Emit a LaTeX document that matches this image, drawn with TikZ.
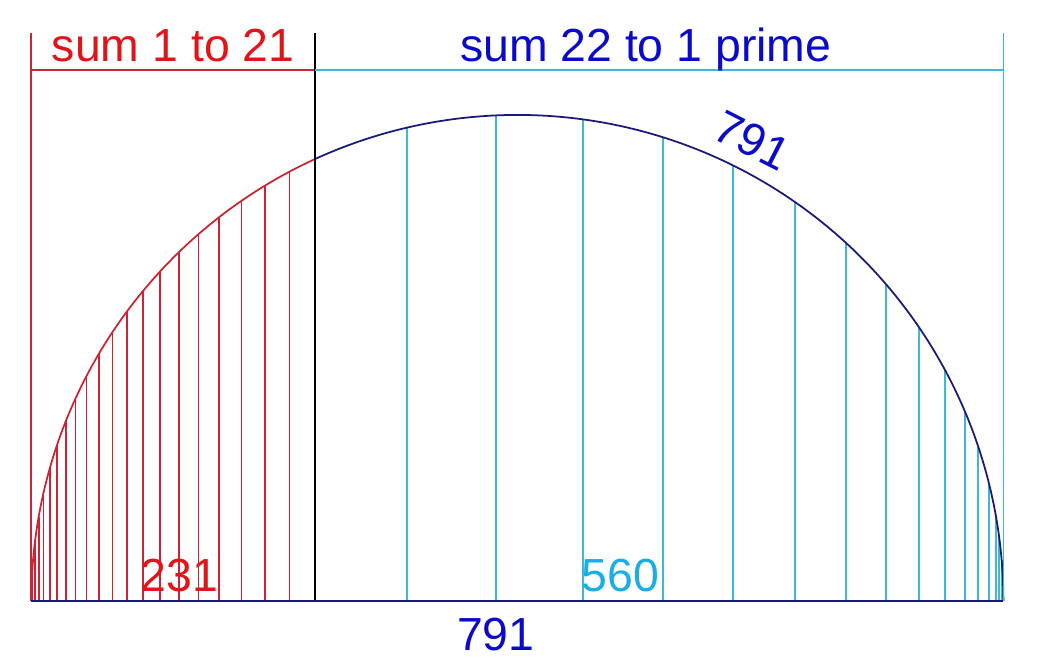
\documentclass[tikz,border=0pt]{standalone}
\usepackage{fontspec}
\setmainfont{Liberation Sans}
\usepackage{tikz}
\usetikzlibrary{positioning}
\definecolor{sumred}{RGB}{225,20,25}
\definecolor{linered}{RGB}{205,35,50}
\definecolor{sumblue}{RGB}{10,10,205}
\definecolor{arcnavy}{RGB}{25,25,120}
\definecolor{linecyan}{RGB}{60,185,215}
\definecolor{sumcyan}{RGB}{25,175,230}
\tikzstyle{redline} = [linered, line width=0.5pt]
\tikzstyle{cyanline} = [linecyan, line width=0.5pt]
\tikzstyle{arcline} = [arcnavy, line width=0.5pt]
\tikzstyle{bigred} = [text=sumred, font=\fontsize{13.2}{15}\selectfont, inner sep=0pt, anchor=base]
\tikzstyle{bigblue} = [text=sumblue, font=\fontsize{13.2}{15}\selectfont, inner sep=0pt, anchor=base]
\tikzstyle{bigcyan} = [text=sumcyan, font=\fontsize{13.2}{15}\selectfont, inner sep=0pt, anchor=base]

\begin{document}
\begin{tikzpicture}[x=0.01229cm, y=0.01229cm]
        \useasboundingbox (-25.47,-53.7) rectangle (828.1,489.0);
        \coordinate (O) at (0,0);
        \coordinate (E) at (791,0);
        \coordinate (M) at (231,0);

        % Garis merah 1 sampai 21
        \foreach \n in {1,...,20} {
            \pgfmathsetmacro\xx{\n*(\n+1)/2}
            \draw [redline] (\xx,0) -- (\xx,{sqrt(\xx)*sqrt(791-\xx)});
        }

        % Garis cyan 22 sampai 1'
        \foreach \xx in {305.9,378.4,449.1,514.2,571.2,621.6,663.1,695.7,722.5,743.7,760.0,770.5,779.5,784.7,787.6,789.6} {
            \draw [cyanline] (\xx,0) -- (\xx,{sqrt(\xx)*sqrt(791-\xx)});
        }

        % Busur
        \draw [redline] plot [domain=180:114.58, samples=80] ({395.5+395.5*cos(\x)},{395.5*sin(\x)});
        \draw [arcline] plot [domain=114.58:0, samples=160] ({395.5+395.5*cos(\x)},{395.5*sin(\x)});

        % Bingkai
        \draw [redline] (O) -- ++(0,461.9);
        \draw [redline] (0,431.8) -- (231,431.8);
        \draw [black, line width=0.5pt] (M) -- ++(0,461.9);
        \draw [cyanline] (231,431.8) -- (791,431.8);
        \draw [cyanline] (E) -- ++(0,461.9);
        \draw [arcline] (O) -- (E);

        % Label
        \node (sumleft) [bigred] at (115.5,439) {sum 1 to 21};
        \node (sumright) [bigblue] at (500,439) {sum 22 to 1 prime};
        \node (lbl231) [bigred] at (120.5,7.7) {231};
        \node (lbl560) [bigcyan] at (479.5,7.7) {560};
        \node (lbl791) [bigblue] at (378,-40.7) {791};
        \node (arc791) [bigblue, anchor=center, rotate=-27] at (586.5,374.8) {791};
\end{tikzpicture}
\end{document}
